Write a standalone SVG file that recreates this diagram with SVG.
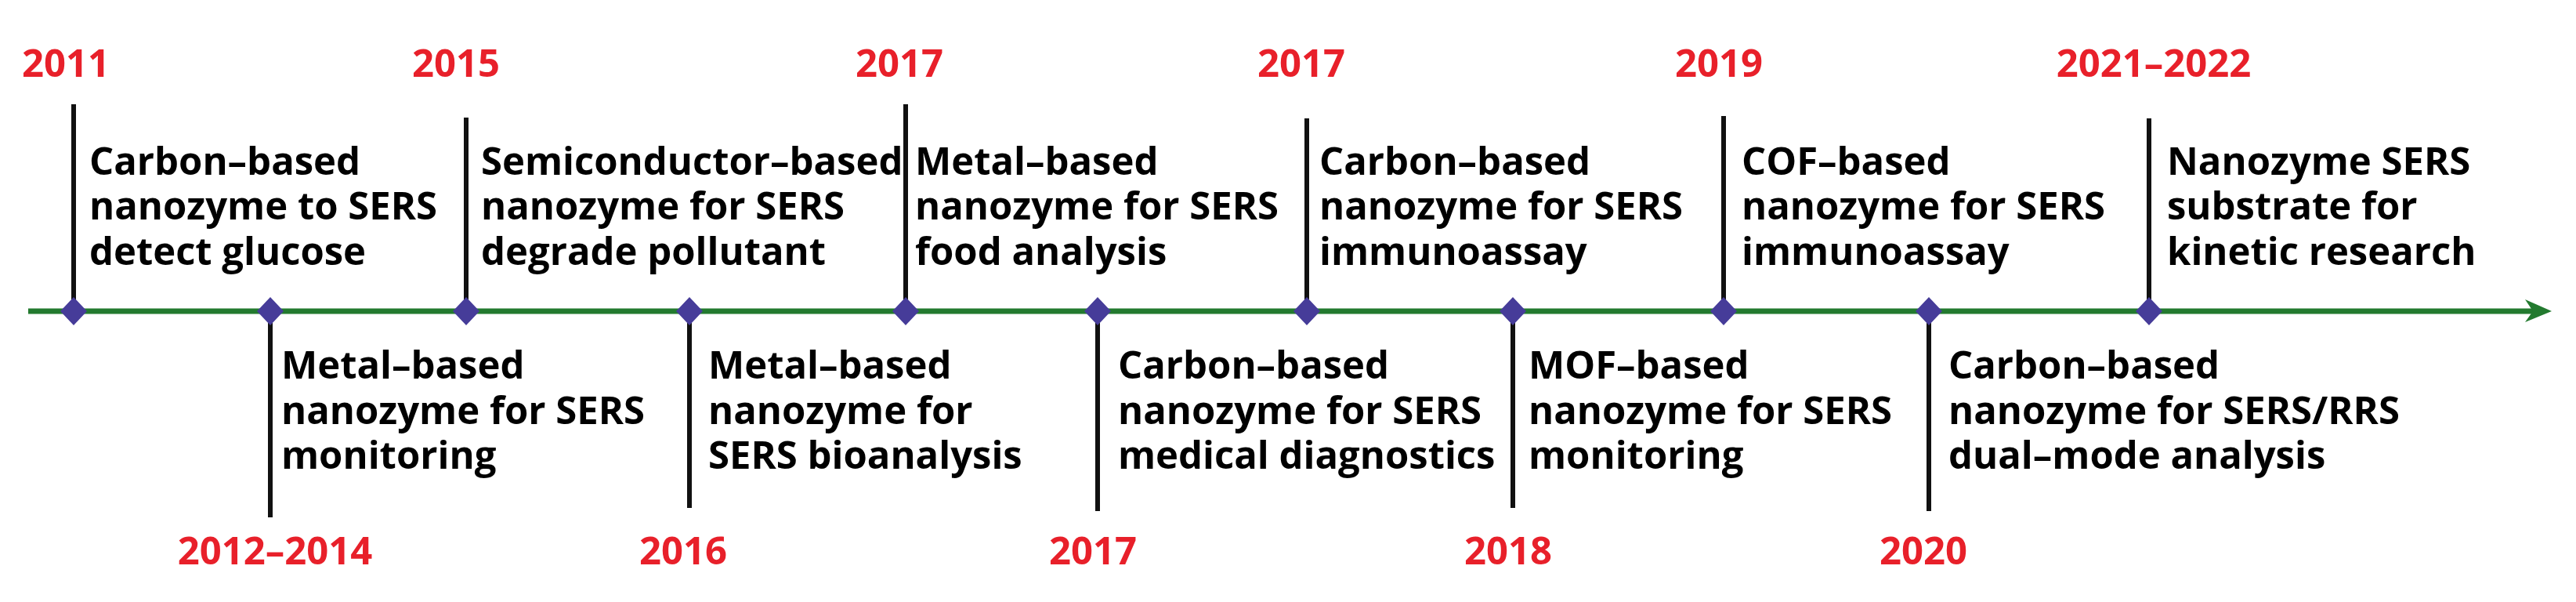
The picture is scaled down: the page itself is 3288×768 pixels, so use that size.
<svg xmlns="http://www.w3.org/2000/svg" width="3288" height="768" viewBox="0 0 3288 768">
<style>
.t{font-family:"Open Sans","Noto Sans","DejaVu Sans",sans-serif;font-weight:700;font-size:49px;fill:#000}
.y{font-family:"Open Sans","Noto Sans","DejaVu Sans",sans-serif;font-weight:700;font-size:49px;fill:#e8202a;text-anchor:middle}
.v{stroke:#111;stroke-width:6;fill:none}
.d{fill:#463c99}
</style>
<defs>
<polygon id="dm" class="d" points="0,-18 17,0 0,18 -17,0"/>
</defs>
<rect width="3288" height="768" fill="#fff"/>
<g id="connectors">
<line x1="36" y1="397" x2="3236" y2="397" stroke="#237a2f" stroke-width="7"/>
<polygon points="3257,397 3223,382 3233,397 3223,411" fill="#237a2f"/>
<line class="v" x1="94" y1="133" x2="94" y2="397"/>
<line class="v" x1="345" y1="397" x2="345" y2="660"/>
<line class="v" x1="595" y1="150" x2="595" y2="397"/>
<line class="v" x1="880" y1="397" x2="880" y2="648"/>
<line class="v" x1="1156" y1="133" x2="1156" y2="397"/>
<line class="v" x1="1401" y1="397" x2="1401" y2="652"/>
<line class="v" x1="1668" y1="151" x2="1668" y2="397"/>
<line class="v" x1="1931" y1="397" x2="1931" y2="648"/>
<line class="v" x1="2200" y1="148" x2="2200" y2="397"/>
<line class="v" x1="2462" y1="397" x2="2462" y2="652"/>
<line class="v" x1="2743" y1="151" x2="2743" y2="397"/>
</g>
<g id="n2011">
<use href="#dm" x="94" y="397"/>
<text class="y" x="84" y="98">2011</text>
<text class="t" x="114" y="223">Carbon–based</text>
<text class="t" x="114" y="280">nanozyme to SERS</text>
<text class="t" x="114" y="338">detect glucose</text>
</g>
<g id="n2012">
<use href="#dm" x="345" y="397"/>
<text class="y" x="351" y="720">2012–2014</text>
<text class="t" x="359" y="483">Metal–based</text>
<text class="t" x="359" y="541">nanozyme for SERS</text>
<text class="t" x="359" y="598">monitoring</text>
</g>
<g id="n2015">
<use href="#dm" x="595" y="397"/>
<text class="y" x="582" y="98">2015</text>
<text class="t" x="614" y="223">Semiconductor–based</text>
<text class="t" x="614" y="280">nanozyme for SERS</text>
<text class="t" x="614" y="338">degrade pollutant</text>
</g>
<g id="n2016">
<use href="#dm" x="880" y="397"/>
<text class="y" x="872" y="720">2016</text>
<text class="t" x="904" y="483">Metal–based</text>
<text class="t" x="904" y="541">nanozyme for</text>
<text class="t" x="904" y="598">SERS bioanalysis</text>
</g>
<g id="n2017a">
<use href="#dm" x="1156" y="397"/>
<text class="y" x="1148" y="98">2017</text>
<text class="t" x="1168" y="223">Metal–based</text>
<text class="t" x="1168" y="280">nanozyme for SERS</text>
<text class="t" x="1168" y="338">food analysis</text>
</g>
<g id="n2017b">
<use href="#dm" x="1401" y="397"/>
<text class="y" x="1395" y="720">2017</text>
<text class="t" x="1427" y="483">Carbon–based</text>
<text class="t" x="1427" y="541">nanozyme for SERS</text>
<text class="t" x="1427" y="598">medical diagnostics</text>
</g>
<g id="n2017c">
<use href="#dm" x="1668" y="397"/>
<text class="y" x="1661" y="98">2017</text>
<text class="t" x="1684" y="223">Carbon–based</text>
<text class="t" x="1684" y="280">nanozyme for SERS</text>
<text class="t" x="1684" y="338">immunoassay</text>
</g>
<g id="n2018">
<use href="#dm" x="1931" y="397"/>
<text class="y" x="1925" y="720">2018</text>
<text class="t" x="1951" y="483">MOF–based</text>
<text class="t" x="1951" y="541">nanozyme for SERS</text>
<text class="t" x="1951" y="598">monitoring</text>
</g>
<g id="n2019">
<use href="#dm" x="2200" y="397"/>
<text class="y" x="2194" y="98">2019</text>
<text class="t" x="2223" y="223">COF–based</text>
<text class="t" x="2223" y="280">nanozyme for SERS</text>
<text class="t" x="2223" y="338">immunoassay</text>
</g>
<g id="n2020">
<use href="#dm" x="2462" y="397"/>
<text class="y" x="2455" y="720">2020</text>
<text class="t" x="2487" y="483">Carbon–based</text>
<text class="t" x="2487" y="541">nanozyme for SERS/RRS</text>
<text class="t" x="2487" y="598">dual–mode analysis</text>
</g>
<g id="n2021">
<use href="#dm" x="2743" y="397"/>
<text class="y" x="2749" y="98">2021–2022</text>
<text class="t" x="2766" y="223">Nanozyme SERS</text>
<text class="t" x="2766" y="280">substrate for</text>
<text class="t" x="2766" y="338">kinetic research</text>
</g>
</svg>
